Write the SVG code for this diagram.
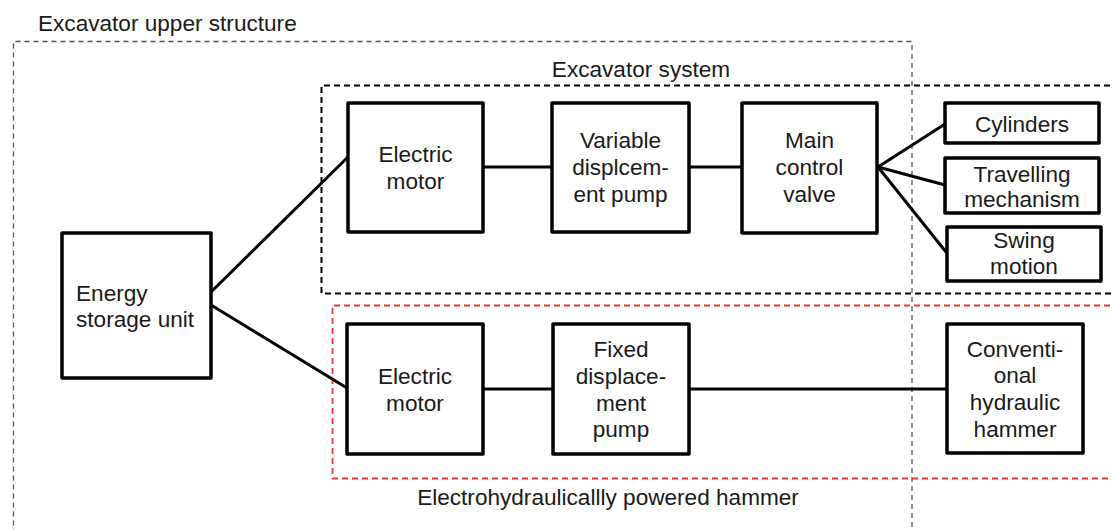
<svg xmlns="http://www.w3.org/2000/svg" width="1112" height="530" viewBox="0 0 1112 530">
<style>
.box{fill:#fff;stroke:#000;stroke-width:3.5;stroke-linejoin:round}
.t{font-family:"Liberation Sans",Arial,sans-serif;font-size:22.6px;fill:#1a1a1a;text-anchor:middle}
.lbl{font-family:"Liberation Sans",Arial,sans-serif;font-size:22.6px;fill:#1a1a1a}
.conn{stroke:#000;stroke-width:3;fill:none;stroke-linecap:round}
</style>
<rect width="1112" height="530" fill="#fff"/>
<g id="frames">
<path d="M912 545 V41.5 H13.5 V545" fill="none" stroke="#555" stroke-width="1.3" stroke-dasharray="5,4"/>
<path d="M1120 85.5 H321.5 V293.5 H1120" fill="none" stroke="#000" stroke-width="2" stroke-dasharray="6,4"/>
<path d="M1120 305.5 H332.5 V478.5 H1120" fill="none" stroke="#e8392e" stroke-width="1.8" stroke-dasharray="6,4"/>
<text class="lbl" x="38" y="31">Excavator upper structure</text>
<text class="t" x="641" y="77">Excavator system</text>
<text class="t" x="608" y="505">Electrohydraulicallly powered hammer</text>
</g>
<g id="connectors">
<line class="conn" x1="211" y1="292" x2="348" y2="157"/>
<line class="conn" x1="211" y1="305" x2="347" y2="388"/>
<line class="conn" x1="483" y1="167" x2="552" y2="167"/>
<line class="conn" x1="689" y1="167" x2="742" y2="167"/>
<line class="conn" x1="878" y1="167" x2="945" y2="124"/>
<line class="conn" x1="878" y1="167" x2="945" y2="185"/>
<line class="conn" x1="878" y1="167" x2="946" y2="252"/>
<line class="conn" x1="483" y1="389" x2="553" y2="389"/>
<line class="conn" x1="689" y1="389" x2="947" y2="389"/>
</g>
<g id="energy">
<rect class="box" x="62" y="233" width="149" height="145"/>
<text class="lbl" x="76" y="301">Energy</text>
<text class="lbl" x="76" y="327">storage unit</text>
</g>
<g id="motor1">
<rect class="box" x="348" y="103" width="135" height="129"/>
<text class="t" x="415.5" y="162">Electric</text>
<text class="t" x="415.5" y="189">motor</text>
</g>
<g id="varpump">
<rect class="box" x="552" y="103" width="137" height="129"/>
<text class="t" x="620.5" y="148">Variable</text>
<text class="t" x="620.5" y="175">displcem-</text>
<text class="t" x="620.5" y="202">ent pump</text>
</g>
<g id="valve">
<rect class="box" x="742" y="103" width="135" height="130"/>
<text class="t" x="809.5" y="148">Main</text>
<text class="t" x="809.5" y="175">control</text>
<text class="t" x="809.5" y="202">valve</text>
</g>
<g id="cylinders">
<rect class="box" x="945" y="103" width="154" height="40"/>
<text class="t" x="1022" y="132">Cylinders</text>
</g>
<g id="travelling">
<rect class="box" x="945" y="158" width="154" height="55"/>
<text class="t" x="1022" y="182">Travelling</text>
<text class="t" x="1022" y="207">mechanism</text>
</g>
<g id="swing">
<rect class="box" x="947" y="227" width="154" height="54"/>
<text class="t" x="1024" y="248">Swing</text>
<text class="t" x="1024" y="274">motion</text>
</g>
<g id="motor2">
<rect class="box" x="347" y="324" width="136" height="130"/>
<text class="t" x="415" y="384">Electric</text>
<text class="t" x="415" y="411">motor</text>
</g>
<g id="fixpump">
<rect class="box" x="553" y="324" width="136" height="130"/>
<text class="t" x="621" y="357">Fixed</text>
<text class="t" x="621" y="384">displace-</text>
<text class="t" x="621" y="411">ment</text>
<text class="t" x="621" y="437">pump</text>
</g>
<g id="hammer">
<rect class="box" x="947" y="324" width="136" height="129"/>
<text class="t" x="1015" y="357">Conventi-</text>
<text class="t" x="1015" y="383">onal</text>
<text class="t" x="1015" y="410">hydraulic</text>
<text class="t" x="1015" y="437">hammer</text>
</g>
</svg>
